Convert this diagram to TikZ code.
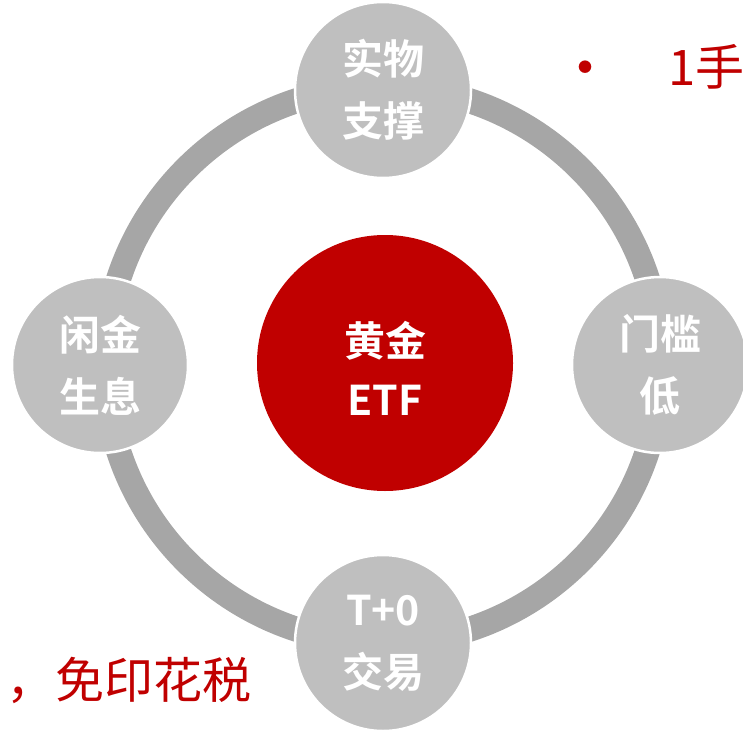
\documentclass[tikz,border=0pt]{standalone}
\usepackage{fontspec}
\usepackage{tikz}
\usetikzlibrary{positioning}
\newfontfamily\cjk[BoldFont={Noto Sans CJK SC Bold}]{Noto Sans CJK SC}
\definecolor{goldred}{RGB}{192,0,0}
\definecolor{ringgray}{RGB}{166,166,166}
\definecolor{petalgray}{RGB}{191,191,191}
\tikzstyle{petal} = [circle, minimum size=176pt, inner sep=0pt, fill=petalgray, draw=white, line width=2.5pt, text=white, align=center, font=\cjk\bfseries\fontsize{41}{62}\selectfont]
\tikzstyle{core} = [circle, minimum size=256pt, inner sep=0pt, fill=goldred, text=white, align=center, font=\cjk\bfseries\fontsize{41}{59}\selectfont]
\tikzstyle{note} = [inner sep=0pt, text=goldred, font=\cjk\fontsize{49}{52}\selectfont]

\begin{document}
\begin{tikzpicture}[x=1pt, y=-1pt]
\useasboundingbox (0,0) rectangle (743,730);
\clip (0,0) rectangle (743,730);

% Ring behind the circles
\coordinate (hub) at (383,365);
\draw[ringgray, line width=25pt] (hub) circle[radius=278];

% Central concept
\node (core) [core, text height=105pt] at (385,363) {黄金\\ETF};

% Features on the ring
\node (support) [petal, above of=hub, node distance=275pt] {实物\\支撑};
\node (entry) [petal, right of=hub, node distance=277pt] {门槛\\低};
\node (trade) [petal, below of=hub, node distance=278pt] {T+0\\交易};
\node (idle) [petal, left of=hub, node distance=283pt] {闲金\\生息};

% Cut-off side notes
\node (dot) [note, font=\cjk\fontsize{14}{14}\selectfont] at (585,67) {●};
\node (quota) [note, anchor=base west] at (668,86) {1手};
\node (stamp) [note, anchor=base east] at (252,698) {，免印花税};
\end{tikzpicture}
\end{document}
